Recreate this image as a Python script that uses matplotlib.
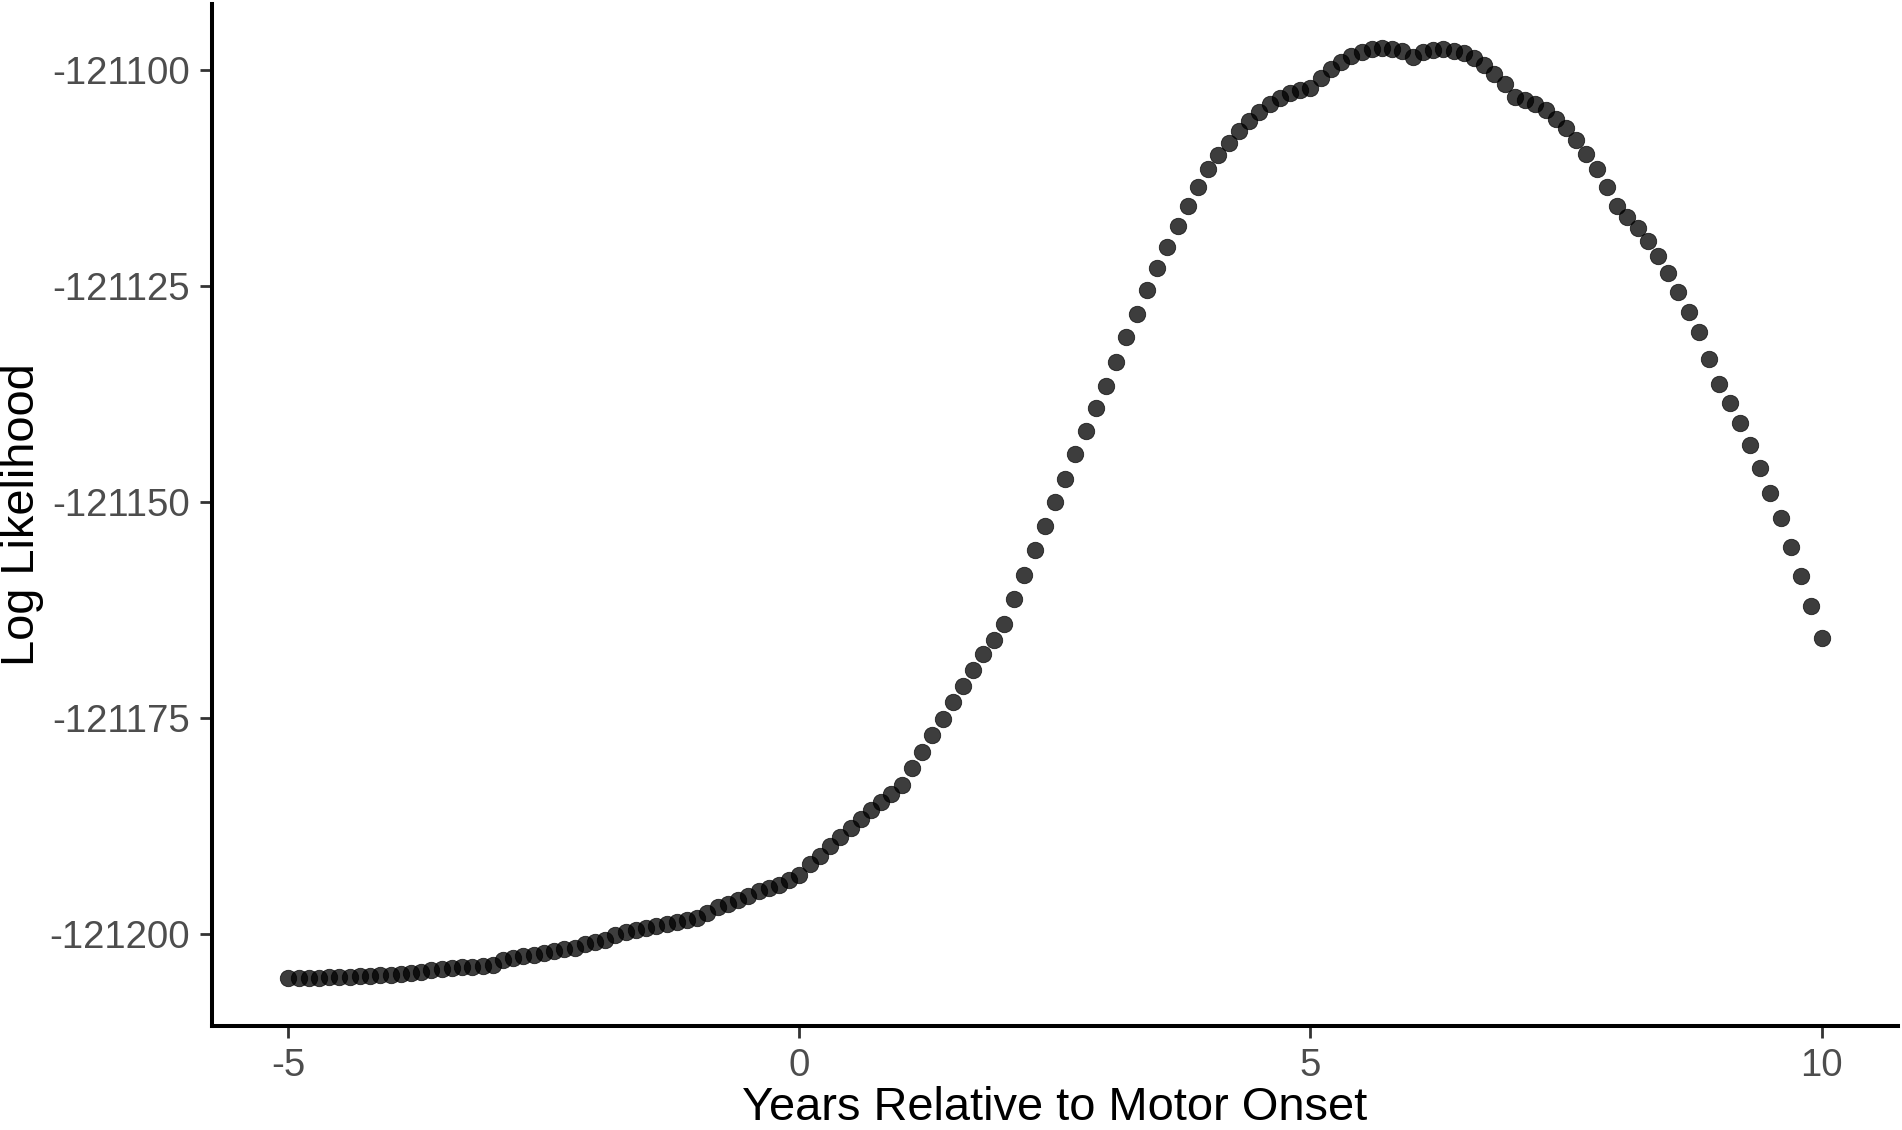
import numpy as np
import matplotlib as mpl
import matplotlib.pyplot as plt

mpl.use('agg')

# years relative to motor onset, one point every 0.1 year
years = np.linspace(-5, 10, 151)

# log likelihood, in steps of 0.1 year from -5 to 10
log_lik = [
    -121205.19, -121205.15, -121205.11, -121205.10, -121205.08, -121205.04, -121205.00, -121204.96, -121204.92, -121204.84,
    -121204.77, -121204.65, -121204.54, -121204.42, -121204.23, -121204.11, -121204.03, -121203.92, -121203.84, -121203.77,
    -121203.69, -121203.11, -121202.84, -121202.65, -121202.45, -121202.26, -121202.03, -121201.84, -121201.65, -121201.20,
    -121200.95, -121200.75, -121200.22, -121199.83, -121199.60, -121199.33, -121199.14, -121198.87, -121198.68, -121198.45,
    -121198.18, -121197.60, -121196.91, -121196.53, -121196.06, -121195.68, -121195.10, -121194.72, -121194.33, -121193.75,
    -121193.20, -121192.00, -121191.00, -121189.90, -121188.81, -121187.77, -121186.73, -121185.73, -121184.77, -121183.81,
    -121182.84, -121180.84, -121178.99, -121177.06, -121175.13, -121173.25, -121171.40, -121169.50, -121167.64, -121165.97,
    -121164.13, -121161.30, -121158.49, -121155.60, -121152.82, -121150.01, -121147.39, -121144.50, -121141.80, -121139.14,
    -121136.64, -121133.82, -121130.93, -121128.31, -121125.54, -121122.96, -121120.53, -121118.10, -121115.79, -121113.59,
    -121111.47, -121109.93, -121108.50, -121107.12, -121105.96, -121104.92, -121103.96, -121103.26, -121102.69, -121102.34,
    -121102.15, -121100.95, -121099.91, -121099.14, -121098.37, -121097.98, -121097.60, -121097.45, -121097.60, -121097.87,
    -121098.49, -121097.98, -121097.71, -121097.60, -121097.79, -121098.10, -121098.64, -121099.41, -121100.49, -121101.72,
    -121103.19, -121103.49, -121104.03, -121104.73, -121105.69, -121106.73, -121108.12, -121109.72, -121111.46, -121113.59,
    -121115.82, -121117.06, -121118.29, -121119.84, -121121.57, -121123.54, -121125.74, -121128.06, -121130.35, -121133.45,
    -121136.34, -121138.59, -121140.90, -121143.48, -121146.06, -121149.00, -121151.90, -121155.25, -121158.65, -121162.08,
    -121165.74,
]

x_ticks = [-5, 0, 5, 10]
y_ticks = [-121200, -121175, -121150, -121125, -121100]

plt.rcParams['font.family'] = ['Liberation Sans', 'DejaVu Sans']

fig = plt.figure(figsize=(19.02, 11.30), dpi=100)
ax = fig.add_axes([0.1113, 0.092, 0.8867, 0.9045])

ax.scatter(years, log_lik, s=140, color='black', alpha=0.76,
           edgecolors='black', linewidths=0.6, zorder=3)

ax.set_xlim(-5.75, 10.75)
ax.set_ylim(-121210.7, -121092.4)
ax.set_xticks(x_ticks)
ax.set_xticklabels([str(t) for t in x_ticks])
ax.set_yticks(y_ticks)
ax.set_yticklabels([str(t) for t in y_ticks])

for side in ['top', 'right']:
    ax.spines[side].set_visible(False)
for side in ['left', 'bottom']:
    ax.spines[side].set_linewidth(2.9)
    ax.spines[side].set_color('black')

ax.tick_params(axis='both', length=8.5, width=2.0, color='#333333',
               labelsize=27.6, labelcolor='#4D4D4D', pad=7)

ax.set_xlabel('Years Relative to Motor Onset', fontsize=33.8, color='black', labelpad=2)
ax.set_ylabel('Log Likelihood', fontsize=33.8, color='black')
ax.yaxis.set_label_coords(-0.0993, 0.5)

fig.savefig('out.png', dpi=100)
